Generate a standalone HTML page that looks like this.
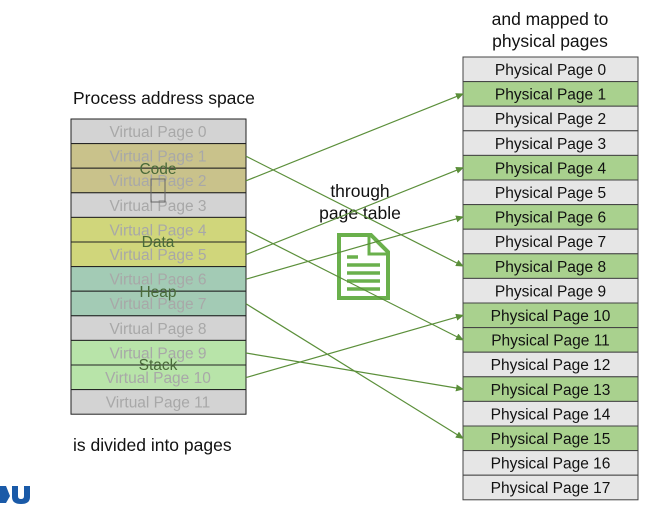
<!DOCTYPE html>
<html><head><meta charset="utf-8"><style>
html,body{margin:0;padding:0;background:#fff;width:654px;height:505px;overflow:hidden}
svg{display:block;font-family:"Liberation Sans",sans-serif}
</style></head><body>
<svg width="654" height="505" viewBox="0 0 654 505" xmlns="http://www.w3.org/2000/svg">
<defs><marker id="a" markerWidth="8" markerHeight="8" refX="7" refY="4" orient="auto" markerUnits="userSpaceOnUse"><path d="M0,0.5 L8,4 L0,7.5 z" fill="#5b8f3a"/></marker></defs>
<text x="73" y="104" font-size="17.5" fill="#111">Process address space</text>
<text x="73" y="451" font-size="17.5" fill="#111">is divided into pages</text>
<text x="550" y="25" font-size="17.5" fill="#111" text-anchor="middle">and mapped to</text>
<text x="550" y="47" font-size="17.5" fill="#111" text-anchor="middle">physical pages</text>
<text x="360" y="197" font-size="17.5" fill="#111" text-anchor="middle">through</text>
<text x="360" y="219" font-size="17.5" fill="#111" text-anchor="middle">page table</text>
<g stroke="#222" stroke-width="1">
<rect x="71" y="119" width="175" height="24.6" fill="#d3d3d3"/>
<rect x="71" y="143.6" width="175" height="24.6" fill="#c9c28b"/>
<rect x="71" y="168.2" width="175" height="24.6" fill="#c9c28b"/>
<rect x="71" y="192.8" width="175" height="24.6" fill="#d3d3d3"/>
<rect x="71" y="217.4" width="175" height="24.6" fill="#d0d67b"/>
<rect x="71" y="242" width="175" height="24.6" fill="#d0d67b"/>
<rect x="71" y="266.6" width="175" height="24.6" fill="#a3cbb5"/>
<rect x="71" y="291.2" width="175" height="24.6" fill="#a3cbb5"/>
<rect x="71" y="315.8" width="175" height="24.6" fill="#d3d3d3"/>
<rect x="71" y="340.4" width="175" height="24.6" fill="#b8e4a9"/>
<rect x="71" y="365" width="175" height="24.6" fill="#b8e4a9"/>
<rect x="71" y="389.6" width="175" height="24.6" fill="#d3d3d3"/>
</g>
<g font-size="15.5" fill="#a8a8a8" text-anchor="middle">
<text x="158" y="137">Virtual Page 0</text>
<text x="158" y="161.6">Virtual Page 1</text>
<text x="158" y="186.2">Virtual Page 2</text>
<text x="158" y="210.8">Virtual Page 3</text>
<text x="158" y="235.4">Virtual Page 4</text>
<text x="158" y="260">Virtual Page 5</text>
<text x="158" y="284.6">Virtual Page 6</text>
<text x="158" y="309.2">Virtual Page 7</text>
<text x="158" y="333.8">Virtual Page 8</text>
<text x="158" y="358.4">Virtual Page 9</text>
<text x="158" y="383">Virtual Page 10</text>
<text x="158" y="407.6">Virtual Page 11</text>
</g>
<g font-size="15.5" fill="#4a6a3a" text-anchor="middle">
<text x="158" y="174">Code</text>
<text x="158" y="247">Data</text>
<text x="158" y="297">Heap</text>
<text x="158" y="370">Stack</text>
</g>
<rect x="151" y="179" width="14" height="23" fill="none" stroke="#666" stroke-width="1"/>
<g stroke="#444" stroke-width="1">
<rect x="463" y="57" width="175" height="24.6" fill="#e6e6e6"/>
<rect x="463" y="81.6" width="175" height="24.6" fill="#a9d18e"/>
<rect x="463" y="106.2" width="175" height="24.6" fill="#e6e6e6"/>
<rect x="463" y="130.8" width="175" height="24.6" fill="#e6e6e6"/>
<rect x="463" y="155.4" width="175" height="24.6" fill="#a9d18e"/>
<rect x="463" y="180" width="175" height="24.6" fill="#e6e6e6"/>
<rect x="463" y="204.6" width="175" height="24.6" fill="#a9d18e"/>
<rect x="463" y="229.2" width="175" height="24.6" fill="#e6e6e6"/>
<rect x="463" y="253.8" width="175" height="24.6" fill="#a9d18e"/>
<rect x="463" y="278.4" width="175" height="24.6" fill="#e6e6e6"/>
<rect x="463" y="303" width="175" height="24.6" fill="#a9d18e"/>
<rect x="463" y="327.6" width="175" height="24.6" fill="#a9d18e"/>
<rect x="463" y="352.2" width="175" height="24.6" fill="#e6e6e6"/>
<rect x="463" y="376.8" width="175" height="24.6" fill="#a9d18e"/>
<rect x="463" y="401.4" width="175" height="24.6" fill="#e6e6e6"/>
<rect x="463" y="426" width="175" height="24.6" fill="#a9d18e"/>
<rect x="463" y="450.6" width="175" height="24.6" fill="#e6e6e6"/>
<rect x="463" y="475.2" width="175" height="24.6" fill="#e6e6e6"/>
</g>
<g font-size="15.5" fill="#111" text-anchor="middle">
<text x="550.5" y="75">Physical Page 0</text>
<text x="550.5" y="99.6">Physical Page 1</text>
<text x="550.5" y="124.2">Physical Page 2</text>
<text x="550.5" y="148.8">Physical Page 3</text>
<text x="550.5" y="173.4">Physical Page 4</text>
<text x="550.5" y="198">Physical Page 5</text>
<text x="550.5" y="222.6">Physical Page 6</text>
<text x="550.5" y="247.2">Physical Page 7</text>
<text x="550.5" y="271.8">Physical Page 8</text>
<text x="550.5" y="296.4">Physical Page 9</text>
<text x="550.5" y="321">Physical Page 10</text>
<text x="550.5" y="345.6">Physical Page 11</text>
<text x="550.5" y="370.2">Physical Page 12</text>
<text x="550.5" y="394.8">Physical Page 13</text>
<text x="550.5" y="419.4">Physical Page 14</text>
<text x="550.5" y="444">Physical Page 15</text>
<text x="550.5" y="468.6">Physical Page 16</text>
<text x="550.5" y="493.2">Physical Page 17</text>
</g>
<g fill="none" stroke="#6ab04c" stroke-width="4">
<path d="M339,235 H371 L388,252 V298 H339 Z"/>
<path d="M369,235 V254 H388" stroke-width="3"/>
</g>
<g stroke="#6ab04c" stroke-width="3.5">
<line x1="347" y1="257" x2="358" y2="257"/>
<line x1="347" y1="265" x2="380" y2="265"/>
<line x1="347" y1="273" x2="380" y2="273"/>
<line x1="347" y1="281" x2="380" y2="281"/>
<line x1="347" y1="289" x2="380" y2="289"/>
</g>
<g stroke="#5b8f3a" stroke-width="1.2" marker-end="url(#a)">
<line x1="246" y1="156.2" x2="463" y2="266.1"/>
<line x1="246" y1="180.8" x2="463" y2="93.9"/>
<line x1="246" y1="230" x2="463" y2="339.9"/>
<line x1="246" y1="254.6" x2="463" y2="167.7"/>
<line x1="246" y1="279.2" x2="463" y2="216.9"/>
<line x1="246" y1="303.8" x2="463" y2="438.3"/>
<line x1="246" y1="353" x2="463" y2="389.1"/>
<line x1="246" y1="377.6" x2="463" y2="315.3"/>
</g>
<path d="M0,486 L6,486 L10,496 L6,503 L0,503 Z" fill="#1a5aa8"/>
<path d="M12,486 H18 V496 Q18,499 21,499 Q24,499 24,496 V486 H30 V497 Q30,504 21,504 Q12,504 12,497 Z" fill="#1a5aa8"/>
</svg>
</body></html>
